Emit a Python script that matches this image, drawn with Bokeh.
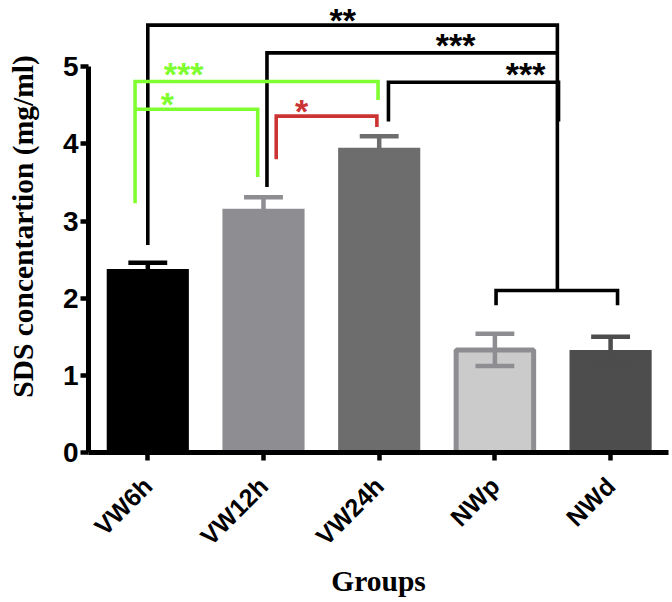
import math
from bokeh.plotting import figure
from bokeh.models import Range1d, FixedTicker, ColumnDataSource
from bokeh.core.properties import value
from bokeh.embed import file_html
from bokeh.resources import INLINE

# ---------------- data ----------------
groups = ["VW6h", "VW12h", "VW24h", "NWp", "NWd"]
means = [2.38, 3.16, 3.95, 1.33, 1.33]
errors = [0.08, 0.15, 0.15, 0.21, 0.17]
y_ticks = [0, 1, 2, 3, 4, 5]

# significance brackets: x points (category units), y points (mg/ml), colour
bracket_xs = [
    [0.0, 0.0, 3.54, 3.54],
    [1.03, 1.03, 3.54],
    [2.08, 2.08, 3.55, 3.55],
    [3.01, 3.01, 4.06, 4.06],
    [-0.11, -0.11, 1.99, 1.99],
    [-0.11, 0.95, 0.95],
    [1.11, 1.11, 1.98, 1.98],
]
bracket_ys = [
    [2.69, 5.54, 5.54, 2.10],
    [3.44, 5.18, 5.18],
    [4.29, 4.80, 4.80, 4.29],
    [1.91, 2.10, 2.10, 1.91],
    [3.23, 4.81, 4.81, 4.57],
    [4.45, 4.45, 3.57],
    [3.80, 4.36, 4.36, 4.22],
]
bracket_colors = ["#000000", "#000000", "#000000", "#000000", "#80FF30", "#80FF30", "#CC3333"]

# significance labels (first one is the top-most "**")
star_text = ["**", "***", "***", "***", "*", "*"]
star_x = [1.685, 2.66, 3.265, 0.31, 0.17, 1.33]
star_y = [5.85, 5.28, 4.90, 4.91, 4.52, 4.43]
star_colors = ["#000000", "#000000", "#000000", "#80FF30", "#80FF30", "#CC3333"]

# ---------------- styles ----------------
fill_colors = ["#000000", "#8E8D92", "#6D6D6D", "#CBCBCB", "#4D4D4D"]
edge_colors = ["#000000", "#8E8D92", "#6D6D6D", "#8E8D92", "#4D4D4D"]
edge_alpha = [0, 0, 0, 1, 0]
bar_widths = [0.71, 0.71, 0.71, 0.67, 0.71]
err_colors = ["#000000", "#8E8D92", "#6D6D6D", "#8E8D92", "#4D4D4D"]
CAP_HALF = 0.168

xpos = list(range(len(groups)))

p = figure(
    width=670, height=600,
    x_range=Range1d(-0.5125, 4.5005),
    y_range=Range1d(0, 5.859),
    output_backend="svg", toolbar_location=None, title=None,
    min_border_left=88, min_border_right=2, min_border_top=0, min_border_bottom=148,
)
p.outline_line_color = None
p.xgrid.visible = False
p.ygrid.visible = False
p.background_fill_color = "white"
p.border_fill_color = "white"

bars = ColumnDataSource(dict(x=xpos, top=means, w=bar_widths, fc=fill_colors,
                             lc=edge_colors, la=edge_alpha))
p.vbar(x="x", top="top", bottom=0, width="w", source=bars, fill_color="fc",
       line_color="lc", line_alpha="la", line_width=5)

up = [m + e for m, e in zip(means, errors)]
lo = [m - e for m, e in zip(means, errors)]
err = ColumnDataSource(dict(x=xpos, up=up, lo=lo,
                            xl=[x - CAP_HALF for x in xpos], xr=[x + CAP_HALF for x in xpos],
                            c=err_colors))
p.segment(x0="x", y0="lo", x1="x", y1="up", source=err, line_color="c", line_width=4.5)
p.segment(x0="xl", y0="up", x1="xr", y1="up", source=err, line_color="c", line_width=4.5)
p.segment(x0="xl", y0="lo", x1="xr", y1="lo", source=err, line_color="c", line_width=4.5)

p.multi_line(xs=bracket_xs, ys=bracket_ys, line_color=bracket_colors, line_width=3.6,
             line_join="miter", line_cap="butt")

star_style = dict(text_font=value("Liberation Sans"), text_font_style="bold",
                  text_font_size="34px", text_align="center")
p.text(x=star_x[:1], y=star_y[:1], text=star_text[:1], text_color=star_colors[:1],
       text_baseline="top", **star_style)
p.text(x=star_x[1:], y=star_y[1:], text=star_text[1:], text_color=star_colors[1:],
       text_baseline="alphabetic", **star_style)

# axes
xa = p.xaxis[0]
xa.ticker = FixedTicker(ticks=xpos)
xa.major_label_overrides = {i: g for i, g in enumerate(groups)}
xa.major_label_orientation = math.pi / 4
xa.minor_tick_line_color = None
xa.major_tick_in = 0
xa.major_tick_out = 8
xa.major_tick_line_width = 4.5
xa.axis_line_width = 5
xa.major_label_text_font = "Liberation Sans"
xa.major_label_text_font_style = "bold"
xa.major_label_text_font_size = "25px"
xa.major_label_text_color = "black"
xa.major_label_standoff = 21
xa.axis_label = "Groups"
xa.axis_label_text_font = "Liberation Serif"
xa.axis_label_text_font_style = "bold"
xa.axis_label_text_font_size = "29.5px"
xa.axis_label_text_color = "black"
xa.axis_label_standoff = 2

ya = p.yaxis[0]
ya.ticker = FixedTicker(ticks=y_ticks)
ya.bounds = (0, 5)
ya.minor_tick_line_color = None
ya.major_tick_in = 0
ya.major_tick_out = 8
ya.major_tick_line_width = 4.5
ya.axis_line_width = 5
ya.major_label_text_font = "Liberation Sans"
ya.major_label_text_font_style = "bold"
ya.major_label_text_font_size = "28px"
ya.major_label_text_color = "black"
ya.major_label_standoff = 2
ya.axis_label = "SDS concentartion (mg/ml)"
ya.axis_label_text_font = "Liberation Serif"
ya.axis_label_text_font_style = "bold"
ya.axis_label_text_font_size = "29.5px"
ya.axis_label_text_color = "black"
ya.axis_label_standoff = 21

open("out.html", "w").write(file_html(p, INLINE))
